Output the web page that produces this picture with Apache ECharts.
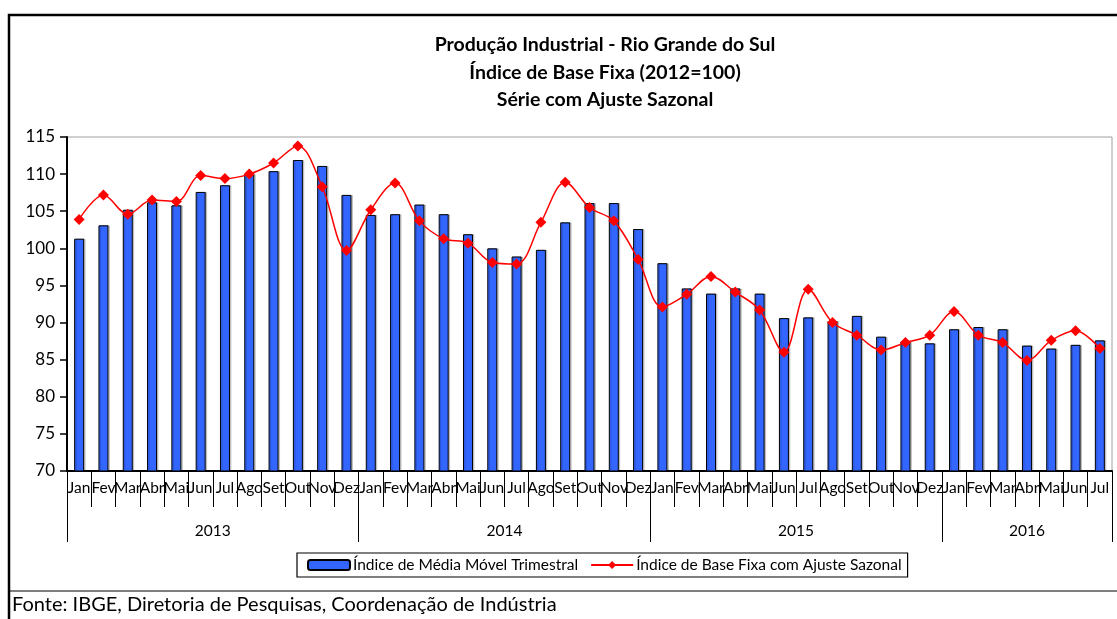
<!DOCTYPE html>
<html>
<head>
<meta charset="utf-8">
<title>Produção Industrial - Rio Grande do Sul</title>
<script src="https://cdn.jsdelivr.net/npm/echarts@6/dist/echarts.min.js"></script>
<style>
  html, body { margin: 0; padding: 0; background: #fff; }
  #chart { width: 1117px; height: 619px; }
</style>
</head>
<body>
<div id="chart"></div>
<script>
// meses (jan/2013 a jul/2016)
var months = [
  'Jan','Fev','Mar','Abr','Mai','Jun','Jul','Ago','Set','Out','Nov','Dez',
  'Jan','Fev','Mar','Abr','Mai','Jun','Jul','Ago','Set','Out','Nov','Dez',
  'Jan','Fev','Mar','Abr','Mai','Jun','Jul','Ago','Set','Out','Nov','Dez',
  'Jan','Fev','Mar','Abr','Mai','Jun','Jul'
];
var yearLabels = ['2013', '2014', '2015', '2016'];
var yearLengths = [12, 12, 12, 7];

// Índice de Média Móvel Trimestral (barras)
var mediaMovel = [
  101.3, 103.1, 105.2, 106.2, 105.8, 107.6, 108.5, 110.0, 110.4, 111.9, 111.1, 107.2,
  104.5, 104.6, 105.9, 104.6, 101.9, 100.0, 98.9, 99.8, 103.5, 106.1, 106.1, 102.6,
  98.0, 94.6, 93.9, 94.6, 93.9, 90.6, 90.7, 90.2, 90.9, 88.1, 87.4, 87.2,
  89.1, 89.4, 89.1, 86.9, 86.5, 87.0, 87.6
];
// Índice de Base Fixa com Ajuste Sazonal (linha)
var ajusteSazonal = [
  103.9, 107.2, 104.6, 106.5, 106.3, 109.8, 109.4, 110.0, 111.5, 113.8, 108.3, 99.7,
  105.2, 108.8, 103.7, 101.3, 100.7, 98.1, 97.9, 103.5, 108.9, 105.5, 103.7, 98.5,
  92.1, 93.8, 96.2, 94.1, 91.7, 86.0, 94.5, 90.0, 88.3, 86.3, 87.3, 88.3,
  91.5, 88.3, 87.3, 84.9, 87.6, 88.9, 86.5
];
var yMin = 70, yMax = 115, yStep = 5;

var W = 1117, H = 619;
var gridLeft = 67, gridRight = 5, gridTop = 137, gridBottom = 148;
var band = (W - gridLeft - gridRight) / months.length;

// eixo de anos: um rótulo por mês, só o do meio de cada ano aparece
var yearCats = [];
var yearStarts = [];
var yearMid = {};
yearLabels.forEach(function (y, i) {
  yearStarts.push(yearCats.length);
  var len = yearLengths[i];
  yearMid[yearCats.length + Math.floor(len / 2)] = { text: y, even: len % 2 === 0 };
  for (var k = 0; k < len; k++) yearCats.push(y);
});

var font = 'Lato, "Open Sans", sans-serif';

var chart = echarts.init(document.getElementById('chart'), null, { renderer: 'canvas' });

chart.setOption({
  backgroundColor: '#fff',
  animation: false,
  title: [{
    text: 'Produção Industrial - Rio Grande do Sul\nÍndice de Base Fixa (2012=100)\nSérie com Ajuste Sazonal',
    left: 600,
    top: 26,
    textAlign: 'center',
    textStyle: { fontFamily: font, fontSize: 19.5, fontWeight: 'bold', color: '#000', lineHeight: 27.5 }
  }, {
    text: 'Fonte: IBGE, Diretoria de Pesquisas, Coordenação de Indústria',
    left: 8,
    top: 595,
    padding: [0, 4],
    textStyle: { fontFamily: font, fontSize: 20, fontWeight: 'normal', color: '#000' }
  }],
  legend: {
    left: 297,
    top: 553,
    padding: [4, 6, 4, 10],
    itemGap: 12,
    itemWidth: 42,
    itemHeight: 10,
    borderColor: '#000',
    borderWidth: 1.2,
    textStyle: { fontFamily: font, fontSize: 15.5, color: '#000', padding: [0, 0, 0, -2] },
    data: ['Índice de Média Móvel Trimestral', 'Índice de Base Fixa com Ajuste Sazonal']
  },
  grid: {
    left: gridLeft, right: gridRight, top: gridTop, bottom: gridBottom,
    show: true, borderColor: '#a0a0a0', borderWidth: 1, backgroundColor: '#fff'
  },
  xAxis: [{
    type: 'category',
    data: months,
    position: 'bottom',
    axisLine: { lineStyle: { color: '#000', width: 2 } },
    axisTick: { show: true, length: 36, lineStyle: { color: '#000', width: 1 } },
    axisLabel: {
      interval: 0, margin: 9, hideOverlap: false,
      fontFamily: font, fontSize: 15.5, color: '#000'
    }
  }, {
    type: 'category',
    data: yearCats,
    position: 'bottom',
    axisLine: { show: false },
    axisTick: {
      show: true, length: 71,
      interval: function (idx) { return yearStarts.indexOf(idx) >= 0; },
      lineStyle: { color: '#000', width: 1 }
    },
    axisLabel: {
      margin: 52,
      hideOverlap: false,
      interval: function (idx) { return !!yearMid[idx]; },
      formatter: function (v, idx) {
        var m = yearMid[idx];
        if (!m) return '';
        return m.even ? '{e|' + m.text + '}' : '{o|' + m.text + '}';
      },
      rich: {
        e: { fontFamily: font, fontSize: 15.5, color: '#000', padding: [0, band, 0, 0] },
        o: { fontFamily: font, fontSize: 15.5, color: '#000' }
      }
    }
  }],
  yAxis: {
    type: 'value',
    min: yMin,
    max: yMax,
    interval: yStep,
    axisLine: { show: true, lineStyle: { color: '#000', width: 2 } },
    axisTick: { show: true, length: 7, lineStyle: { color: '#000', width: 1.5 } },
    axisLabel: { margin: 12, fontFamily: font, fontSize: 17, color: '#000' },
    splitLine: { show: false }
  },
  series: [{
    name: 'Índice de Média Móvel Trimestral',
    type: 'bar',
    data: mediaMovel,
    barWidth: 10,
    itemStyle: {
      color: '#3366ff',
      borderColor: '#000',
      borderWidth: 1,
      shadowColor: 'rgba(0,0,0,0.18)',
      shadowOffsetX: 1.5,
      shadowOffsetY: 0
    },
    z: 2
  }, {
    name: 'Índice de Base Fixa com Ajuste Sazonal',
    type: 'line',
    data: ajusteSazonal,
    smooth: 0.35,
    symbol: 'diamond',
    symbolSize: 11,
    lineStyle: { color: '#ff0000', width: 1.5 },
    itemStyle: { color: '#ff0000' },
    z: 3
  }],
  graphic: [{
    type: 'polyline',
    shape: { points: [[9, H], [9, 15], [W, 15]] },
    style: { stroke: '#000', lineWidth: 2.5, fill: null }
  }, {
    type: 'line',
    shape: { x1: 9, y1: 591, x2: W, y2: 591 },
    style: { stroke: '#000', lineWidth: 1.2 }
  }]
});
</script>
</body>
</html>
